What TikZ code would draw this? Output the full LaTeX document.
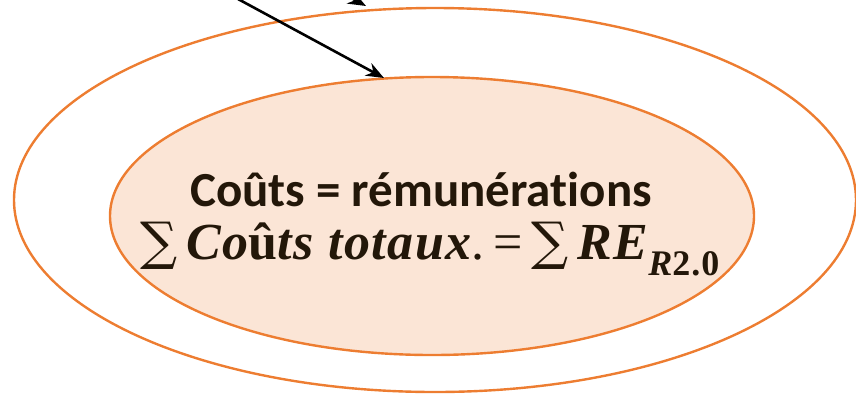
\documentclass[tikz,border=0pt]{standalone}
\usepackage{fontspec}
\setmainfont[Ligatures=NoCommon]{Carlito}
\newfontfamily\eqfont[LetterSpace=3]{Liberation Serif}
\newfontfamily\symfont{DejaVu Serif}
\usetikzlibrary{shapes.geometric,arrows.meta}
\definecolor{ringorange}{HTML}{ED7D31}
\definecolor{ringfill}{HTML}{FBE5D6}
\definecolor{inktext}{HTML}{231709}
\tikzset{
  ring/.style={ellipse, draw=ringorange, line width=1.2pt, inner sep=0pt},
  flowarrow/.style={-{Stealth[length=9pt,width=7pt]}, line width=1.3pt, black},
}
\begin{document}
\begin{tikzpicture}[x=0.5pt,y=-0.5pt]
  \useasboundingbox (0,0) rectangle (856,397);
  \clip (0,0) rectangle (856,397);
  % the two rings
  \node[ring, minimum width=421pt, minimum height=192pt] (outer) at (435,200) {};
  \node[ring, fill=ringfill, minimum width=322pt, minimum height=139pt] (inner) at (432,216) {};
  % texts
  \node[text=inktext, font=\fontsize{24.5}{28}\selectfont\bfseries] (title) at (421,189) {Coûts = rémunérations};
  \node[text=inktext, font=\fontsize{26}{30}\selectfont] (eq) at (430,249)
    {{\symfont ∑}\,{\eqfont\bfseries\itshape Co{\upshape û}ts totaux}{\eqfont.\,=\,}{\symfont ∑}\,{\eqfont\bfseries\itshape RE\raisebox{-0.3em}{\fontsize{18}{20}\selectfont R{\upshape 2.0}}}};
  % arrows
  \coordinate (srcA) at (238,-1);
  \coordinate (tipA) at (384,78);
  \coordinate (srcB) at (300,-30);
  \coordinate (tipB) at (366,6);
  \draw[flowarrow] (srcA) -- (tipA);
  \draw[flowarrow] (srcB) -- (tipB);
\end{tikzpicture}
\end{document}
